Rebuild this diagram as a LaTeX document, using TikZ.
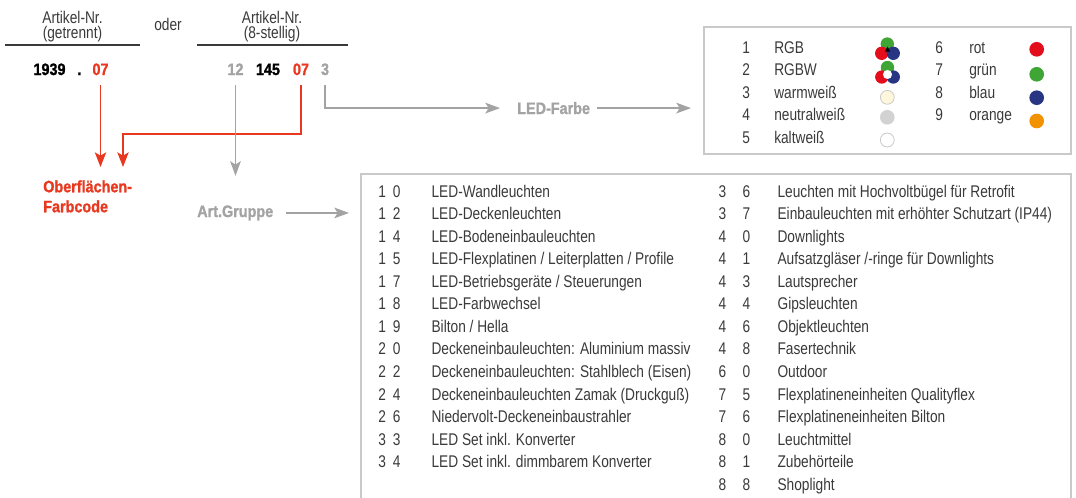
\documentclass[tikz,border=0pt]{standalone}
\usepackage{fontspec}
\setmainfont{Liberation Sans}[FakeStretch=0.81]
\newfontfamily\heavyfont{Liberation Sans}[FakeStretch=0.87,BoldFeatures={FakeBold=1.2}]
\usetikzlibrary{arrows.meta,positioning}
\setlength{\tabcolsep}{0pt}
\definecolor{codered}{HTML}{E8381F}
\definecolor{codegray}{HTML}{A3A3A3}
\definecolor{txtgray}{HTML}{3A3A3A}
\definecolor{boxgray}{HTML}{C9C9C9}
\definecolor{ledrot}{HTML}{E30D1B}
\definecolor{ledgruen}{HTML}{3FA535}
\definecolor{ledblau}{HTML}{283583}
\definecolor{ledorange}{HTML}{F39200}
\definecolor{ledwarm}{HTML}{FFF7DC}
\definecolor{ledneutral}{HTML}{D2D2D2}

\begin{document}
\begin{tikzpicture}[x=0.75pt,y=-0.75pt,txt/.style={font=\fontsize{12.7}{16.9}\selectfont,text=txtgray,inner sep=0pt},head/.style={txt,align=center,font=\fontsize{12.7}{11.25}\selectfont,anchor=north},code/.style={font=\heavyfont\bfseries\fontsize{12.4}{14}\selectfont,inner sep=7.5pt,anchor=base},tag/.style={font=\heavyfont\bfseries\fontsize{12.4}{15}\selectfont,inner sep=0pt,align=left},frame/.style={draw=boxgray,line width=0.9pt,inner sep=0pt,outer sep=0pt,anchor=north west},rule/.style={draw=txtgray,line width=0.9pt},redarrow/.style={-{Stealth[length=11pt,width=8.5pt,inset=2.5pt]},draw=codered,line width=1pt},grayarrow/.style={-{Stealth[length=11pt,width=8pt,inset=2.5pt]},draw=codegray,line width=1pt}]
\useasboundingbox (0,0) rectangle (1076,497);
\node[head] (getr) at (72.5,10.6) {Artikel-Nr.\\(getrennt)};
\node[head] (acht) at (272,10.6) {Artikel-Nr.\\(8-stellig)};
\node[txt,anchor=base] (oder) at (168,30) {oder};
\draw[rule] (5,45) -- (140,45); \draw[rule] (197,45) -- (348,45);
\node[code] (n1939) at (49.5,75) {1939};
\node[code] (punkt) at (79.5,75) {.};
\node[code,text=codered] (n07a) at (100.5,75) {07};
\node[code,text=codegray] (n12) at (235.5,75) {12};
\node[code] (n145) at (268,75) {145};
\node[code,text=codered] (n07b) at (301,75) {07};
\node[code,text=codegray] (n3) at (325,75) {3};
\node[tag,text=codered,anchor=north west] (ofc) at (43,180) {Oberflächen-\\Farbcode};
\node[tag,text=codegray,anchor=base west] (artgr) at (197,217) {Art.Gruppe};
\node[tag,text=codegray,anchor=base west] (ledf) at (517,114) {LED-Farbe};
\node[frame,minimum width=275.25pt,minimum height=95.25pt] (farbbox) at (704,27) {};
\node[frame,minimum width=532.5pt,minimum height=300pt] (grpbox) at (361,174) {};
\coordinate (knick) at (123,134);
\draw[redarrow,shorten >=9.75pt] (n07a.south) -- (n07a.south |- ofc.north);
\draw[redarrow,shorten >=9.75pt] (n07b.south) |- (knick) -- (knick |- ofc.north);
\draw[grayarrow,shorten >=22pt] (n12.south) -- (n12.south |- artgr.north);
\draw[grayarrow,shorten >=12.75pt] (n3.south) |- (ledf.west);
\draw[grayarrow,shorten <=5pt,shorten >=9.75pt] (ledf.east) -- (ledf.east -| farbbox.west);
\draw[grayarrow,shorten <=9.75pt,shorten >=9pt] (artgr.east) -- (artgr.east -| grpbox.west);
\node[txt,below right=7.65pt and 28.5pt of farbbox.north west] (farben) {\begin{tabular}{@{}p{24pt}p{120.75pt}p{25.5pt}l@{}}
1&RGB&6&rot\\
2&RGBW&7&grün\\
3&warmweiß&8&blau\\
4&neutralweiß&9&orange\\
5&kaltweiß&&\\
\end{tabular}};
\node[txt,below right=5.4pt and 12.75pt of grpbox.north west] (gruppen) {\begin{tabular}{@{}p{11pt}p{29pt}p{215.25pt}p{18pt}p{26.25pt}l@{}}
1&0&LED-Wandleuchten&3&6&Leuchten mit Hochvoltbügel für Retrofit\\
1&2&LED-Deckenleuchten&3&7&Einbauleuchten mit erhöhter Schutzart (IP44)\\
1&4&LED-Bodeneinbauleuchten&4&0&Downlights\\
1&5&LED-Flexplatinen / Leiterplatten / Profile&4&1&Aufsatzgläser /-ringe für Downlights\\
1&7&LED-Betriebsgeräte / Steuerungen&4&3&Lautsprecher\\
1&8&LED-Farbwechsel&4&4&Gipsleuchten\\
1&9&Bilton / Hella&4&6&Objektleuchten\\
2&0&Deckeneinbauleuchten: Aluminium massiv&4&8&Fasertechnik\\
2&2&Deckeneinbauleuchten: Stahlblech (Eisen)&6&0&Outdoor\\
2&4&Deckeneinbauleuchten Zamak (Druckguß)&7&5&Flexplatineneinheiten Qualityflex\\
2&6&Niedervolt-Deckeneinbaustrahler&7&6&Flexplatineneinheiten Bilton\\
3&3&LED Set inkl. Konverter&8&0&Leuchtmittel\\
3&4&LED Set inkl. dimmbarem Konverter&8&1&Zubehörteile\\
&&&8&8&Shoplight\\
\end{tabular}};
\fill[ledgruen] (887.3,44) circle[radius=5pt]; \fill[ledrot] (881.7,53.3) circle[radius=5pt]; \fill[ledblau] (893.3,53.3) circle[radius=5pt];
\fill[black] (887.5,46.5) -- (885,51.5) -- (890,51.5) -- cycle;
\fill[ledgruen] (887.5,67.5) circle[radius=5pt]; \fill[ledrot] (881.8,77) circle[radius=5pt]; \fill[ledblau] (893.3,77) circle[radius=5pt];
\fill[white] (887.5,74.5) circle[radius=3.4pt];
\filldraw[fill=ledwarm,draw=boxgray,line width=0.6pt] (887.3,97.3) circle[radius=5.2pt];
\fill[ledneutral] (887.3,117.3) circle[radius=5.5pt];
\filldraw[fill=white,draw=boxgray,line width=0.6pt] (887.3,140) circle[radius=5.2pt];
\fill[ledrot] (1036.7,49.3) circle[radius=5.5pt];
\fill[ledgruen] (1036.7,74.3) circle[radius=5.5pt];
\fill[ledblau] (1036.7,97.7) circle[radius=5.5pt];
\fill[ledorange] (1036.7,121) circle[radius=5.5pt];
\end{tikzpicture}
\end{document}
